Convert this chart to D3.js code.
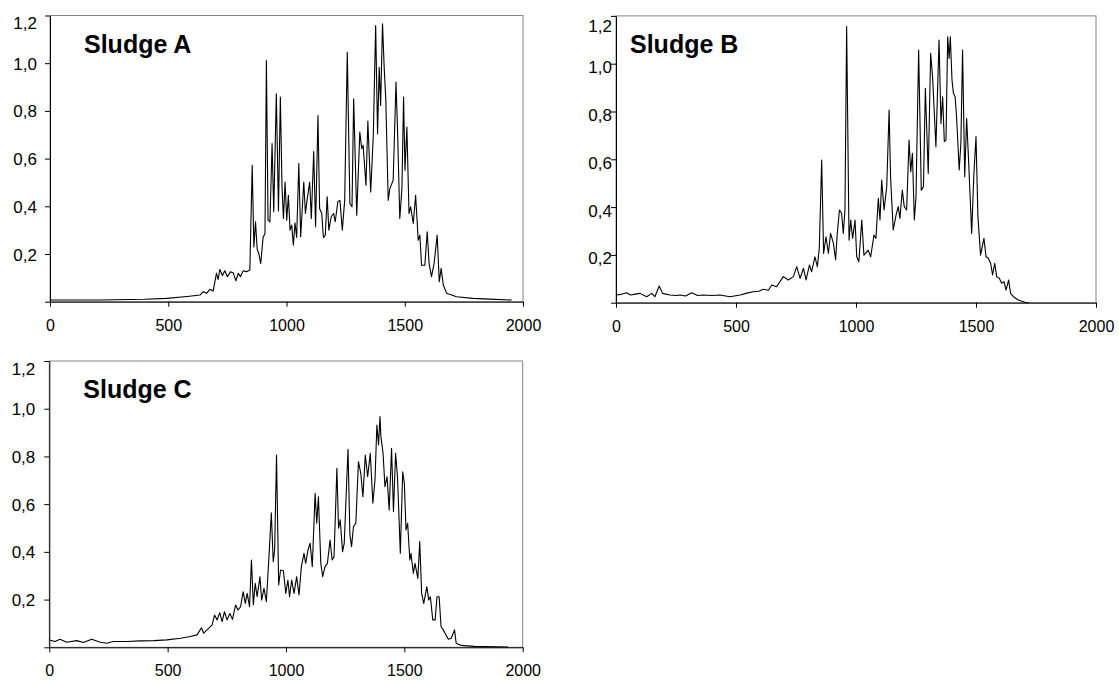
<!DOCTYPE html>
<html>
<head>
<meta charset="utf-8">
<script src="https://cdn.jsdelivr.net/npm/d3@7"></script>
<style>
  body { margin: 0; background: #fff; }
  svg { display: block; }
  text { font-family: Arial, "Liberation Sans", sans-serif; fill: #000; }
</style>
</head>
<body>
<svg id="chart" width="1119" height="681"></svg>
<script>
// tick values shared by all three panels
const xTicks = [0, 500, 1000, 1500, 2000];
const yTicks = [0, 0.2, 0.4, 0.6, 0.8, 1.0, 1.2];
const titles = ["Sludge A", "Sludge B", "Sludge C"];

// spectra, [x, intensity]
const sludgeA = [
  [0,0.007],[211,0.007],[400,0.01],[493,0.014],[580,0.022],[634,0.028],[648,0.042],[662,0.035],[676,0.052],[690,0.045],
  [704,0.12],[711,0.093],[718,0.135],[729,0.11],[739,0.13],[750,0.105],[763,0.125],[775,0.121],[786,0.088],[796,0.119],
  [805,0.105],[817,0.13],[831,0.126],[845,0.133],[855,0.572],[862,0.23],[869,0.335],[876,0.219],[883,0.202],[891,0.16],
  [901,0.269],[909,0.286],[915,1.011],[922,0.342],[930,0.335],[939,0.663],[946,0.377],[957,0.872],[966,0.381],[974,0.858],
  [981,0.481],[987,0.349],[994,0.502],[1001,0.342],[1008,0.446],[1015,0.3],[1022,0.321],[1029,0.237],[1036,0.331],[1043,0.269],
  [1052,0.579],[1060,0.272],[1073,0.502],[1080,0.37],[1087,0.425],[1098,0.502],[1105,0.349],[1115,0.63],[1123,0.314],[1133,0.781],
  [1140,0.391],[1149,0.37],[1156,0.269],[1164,0.279],[1172,0.44],[1179,0.3],[1189,0.356],[1199,0.37],[1206,0.335],[1217,0.419],
  [1226,0.425],[1236,0.3],[1246,0.425],[1257,1.046],[1268,0.412],[1277,0.398],[1284,0.851],[1297,0.363],[1310,0.711],[1318,0.642],
  [1324,0.656],[1336,0.488],[1344,0.757],[1356,0.46],[1367,0.698],[1377,1.158],[1385,0.704],[1392,0.983],[1398,0.823],[1406,1.165],
  [1413,0.983],[1420,0.844],[1430,0.425],[1437,0.474],[1451,0.509],[1463,0.921],[1470,0.704],[1479,0.349],[1488,0.474],[1495,0.858],
  [1501,0.551],[1509,0.732],[1518,0.37],[1525,0.398],[1536,0.328],[1546,0.446],[1557,0.258],[1564,0.279],[1571,0.153],[1585,0.153],
  [1595,0.293],[1603,0.16],[1613,0.105],[1624,0.16],[1637,0.279],[1646,0.084],[1654,0.14],[1663,0.07],[1677,0.035],[1719,0.021],
  [1789,0.014],[1860,0.011],[1952,0.007]
];

const sludgeB = [
  [0,0.032],[22,0.035],[44,0.042],[61,0.032],[80,0.036],[100,0.039],[128,0.025],[149,0.039],[162,0.025],[180,0.07],
  [194,0.039],[225,0.032],[250,0.03],[267,0.032],[290,0.028],[315,0.042],[340,0.03],[364,0.032],[400,0.03],[433,0.032],
  [475,0.025],[517,0.032],[545,0.04],[572,0.046],[595,0.048],[614,0.056],[635,0.052],[649,0.074],[669,0.067],[697,0.109],
  [718,0.095],[739,0.109],[753,0.151],[767,0.102],[781,0.144],[792,0.095],[806,0.158],[815,0.13],[829,0.192],[839,0.151],
  [847,0.227],[857,0.597],[865,0.206],[875,0.276],[885,0.206],[894,0.29],[906,0.248],[915,0.179],[922,0.29],[931,0.388],
  [940,0.374],[947,0.29],[954,0.388],[961,1.155],[971,0.262],[978,0.346],[986,0.269],[996,0.346],[1003,0.192],[1012,0.172],
  [1024,0.346],[1033,0.199],[1051,0.22],[1061,0.192],[1075,0.283],[1083,0.269],[1093,0.437],[1100,0.346],[1107,0.513],[1117,0.388],
  [1128,0.485],[1138,0.806],[1144,0.527],[1155,0.304],[1167,0.367],[1176,0.402],[1183,0.353],[1193,0.471],[1201,0.402],[1211,0.388],
  [1221,0.681],[1228,0.548],[1235,0.625],[1243,0.346],[1250,0.444],[1261,1.057],[1272,0.471],[1281,0.485],[1289,0.897],[1301,0.541],
  [1311,1.043],[1319,0.946],[1333,0.653],[1346,1.099],[1354,0.75],[1361,0.862],[1368,0.674],[1375,0.681],[1382,1.113],[1388,1.022],
  [1393,1.113],[1400,0.932],[1406,0.876],[1413,0.862],[1419,0.778],[1430,0.555],[1437,0.667],[1444,1.057],[1453,0.527],[1461,0.771],
  [1469,0.597],[1482,0.29],[1491,0.534],[1500,0.695],[1508,0.36],[1519,0.199],[1533,0.269],[1542,0.192],[1551,0.186],[1561,0.165],
  [1569,0.116],[1578,0.165],[1586,0.109],[1597,0.102],[1607,0.081],[1617,0.088],[1625,0.053],[1636,0.095],[1644,0.039],[1656,0.025],
  [1676,0.011],[1704,0.002],[1720,0]
];

const sludgeC = [
  [0,0.031],[24,0.024],[45,0.034],[73,0.021],[116,0.028],[144,0.02],[179,0.034],[215,0.021],[243,0.017],[271,0.024],
  [328,0.024],[384,0.027],[441,0.028],[497,0.031],[554,0.038],[596,0.045],[624,0.052],[643,0.082],[652,0.059],[674,0.08],
  [688,0.094],[698,0.135],[709,0.115],[720,0.145],[730,0.108],[740,0.149],[751,0.115],[763,0.142],[774,0.117],[787,0.177],
  [797,0.156],[808,0.17],[819,0.233],[828,0.184],[836,0.226],[846,0.17],[854,0.366],[862,0.177],[870,0.268],[878,0.212],
  [890,0.296],[897,0.198],[907,0.247],[917,0.191],[928,0.38],[938,0.564],[946,0.359],[952,0.408],[960,0.806],[969,0.261],
  [977,0.324],[989,0.321],[999,0.226],[1008,0.282],[1015,0.212],[1024,0.282],[1034,0.226],[1045,0.296],[1055,0.219],[1065,0.338],
  [1076,0.394],[1083,0.352],[1093,0.408],[1102,0.436],[1111,0.338],[1123,0.645],[1130,0.52],[1137,0.631],[1147,0.352],[1155,0.296],
  [1165,0.338],[1175,0.352],[1186,0.45],[1195,0.366],[1203,0.38],[1215,0.75],[1222,0.499],[1229,0.534],[1239,0.401],[1246,0.436],
  [1262,0.83],[1270,0.471],[1277,0.422],[1285,0.506],[1295,0.52],[1306,0.778],[1316,0.729],[1325,0.631],[1335,0.806],[1345,0.715],
  [1356,0.813],[1367,0.604],[1376,0.701],[1384,0.932],[1391,0.848],[1397,0.967],[1401,0.883],[1410,0.813],[1418,0.673],[1427,0.715],
  [1436,0.576],[1446,0.834],[1454,0.569],[1463,0.813],[1471,0.715],[1483,0.394],[1493,0.736],[1500,0.687],[1507,0.492],[1514,0.52],
  [1523,0.366],[1528,0.394],[1538,0.31],[1545,0.352],[1557,0.289],[1565,0.443],[1573,0.226],[1582,0.184],[1595,0.254],[1603,0.198],
  [1610,0.212],[1620,0.115],[1630,0.115],[1638,0.212],[1647,0.212],[1655,0.087],[1664,0.073],[1672,0.059],[1686,0.034],[1698,0.038],
  [1712,0.073],[1719,0.017],[1740,0.008],[1796,0.004],[1938,0.001]
];

// panel boxes in pixels (layout only)
const panels = [
  { title: titles[0], data: sludgeA, left: 50, right: 523, top: 15.5, bottom: 301.7, gap: 13, shift: 0 },
  { title: titles[1], data: sludgeB, left: 616, right: 1096, top: 15.9, bottom: 302.7, gap: 4, shift: 3 },
  { title: titles[2], data: sludgeC, left: 49.3, right: 522.7, top: 361, bottom: 647.3, gap: 14, shift: 0 },
];

const comma = d3.formatLocale({ decimal: ",", thousands: ".", grouping: [3], currency: ["", ""] });
const yFmt = (d) => (d === 0 ? "" : comma.format(".1f")(d));

const svg = d3.select("#chart");

panels.forEach((p) => {
  const x = d3.scaleLinear().domain([0, 2000]).range([p.left, p.right]);
  const y = d3.scaleLinear().domain([0, 1.2]).range([p.bottom, p.top]);
  const g = svg.append("g");

  // plot area border (grey top/right)
  g.append("rect")
    .attr("x", p.left)
    .attr("y", p.top)
    .attr("width", p.right - p.left)
    .attr("height", p.bottom - p.top)
    .attr("fill", "none")
    .attr("stroke", "#858585")
    .attr("stroke-width", 1);

  const line = d3
    .line()
    .x((d) => x(d[0]))
    .y((d) => y(d[1]));

  g.append("path")
    .datum(p.data)
    .attr("d", line)
    .attr("fill", "none")
    .attr("stroke", "#000")
    .attr("stroke-width", 1.1)
    .attr("stroke-linejoin", "round");

  // y axis
  const yAxis = g
    .append("g")
    .attr("transform", `translate(${p.left},0)`)
    .call(d3.axisLeft(y).tickValues(yTicks).tickFormat(yFmt).tickSize(5).tickSizeOuter(0));
  yAxis.select(".domain").attr("stroke", "#000");
  yAxis.selectAll(".tick line").attr("stroke", "#000");
  yAxis
    .selectAll(".tick text")
    .attr("x", -p.gap)
    .attr("dy", null)
    .attr("y", (d) => 6 + p.shift + (d === 1.2 ? 7 : 0))
    .style("font-size", "17px")
    .style("font-family", "Arial, 'Liberation Sans', sans-serif")
    .attr("fill", "#000");

  // x axis
  const xAxis = g
    .append("g")
    .attr("transform", `translate(0,${p.bottom})`)
    .call(d3.axisBottom(x).tickValues(xTicks).tickFormat(d3.format("d")).tickSize(5).tickSizeOuter(0));
  xAxis.select(".domain").attr("stroke", "#000");
  xAxis.selectAll(".tick line").attr("stroke", "#000");
  xAxis
    .selectAll(".tick text")
    .attr("y", 29)
    .attr("dy", null)
    .style("font-size", "16px")
    .style("font-family", "Arial, 'Liberation Sans', sans-serif")
    .attr("fill", "#000");

  // title inside plot
  g.append("text")
    .attr("x", p.left + (p.title === "Sludge B" ? 14 : 34))
    .attr("y", p.top + 37)
    .style("font-size", "25px")
    .style("font-weight", "bold")
    .text(p.title);
});
</script>
</body>
</html>
